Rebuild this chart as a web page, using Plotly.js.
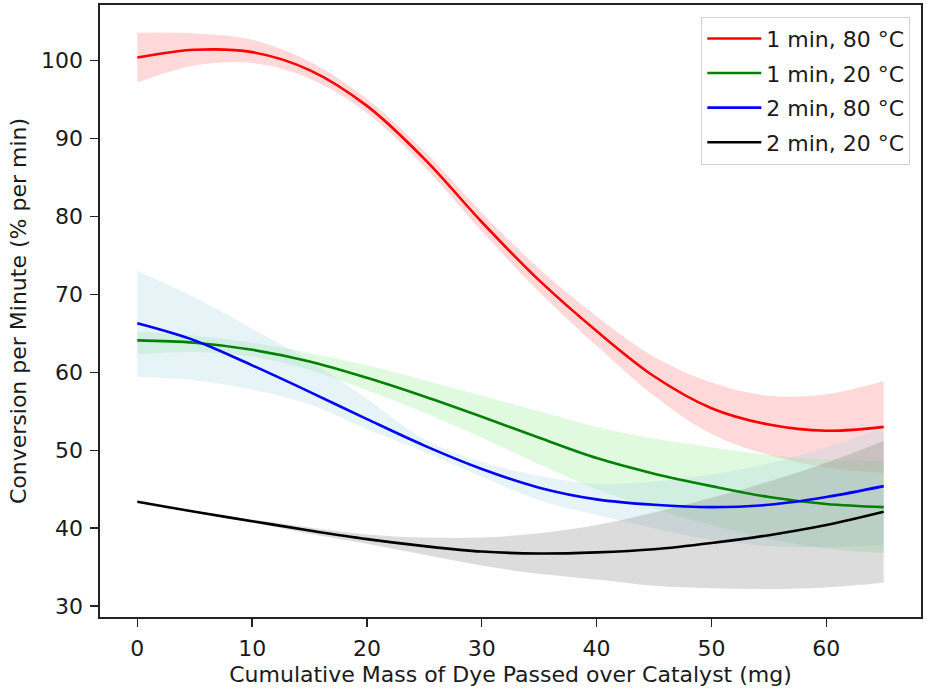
<!DOCTYPE html>
<html>
<head>
<meta charset="utf-8">
<script src="https://cdn.plot.ly/plotly-3.0.1.min.js"></script>
<style>html,body{margin:0;padding:0;background:#fff;}#chart{width:927px;height:693px;}</style>
</head>
<body>
<div id="chart"></div>
<script>
// Cumulative mass of dye passed over catalyst (mg)
const massX = [0, 5, 10, 15, 20, 25, 30, 35, 40, 45, 50, 55, 60, 65];

const seriesNames = ["1 min, 80 °C", "1 min, 20 °C", "2 min, 80 °C", "2 min, 20 °C"];

// 1 min, 80 °C
const red80 =      [100.4, 101.4, 101.1, 98.8, 94.2, 87.4, 79.3, 71.8, 65.3, 59.5, 55.4, 53.3, 52.5, 53.0];
const red80Upper = [103.6, 103.5, 102.7, 99.9, 95.1, 88.4, 80.5, 73.3, 67.2, 62.0, 58.7, 57.0, 57.2, 58.9];
const red80Lower = [97.2, 99.4, 99.7, 97.7, 93.3, 86.4, 78.1, 70.3, 63.4, 57.0, 52.1, 49.4, 47.8, 47.1];

// 1 min, 20 °C
const green20 =      [64.1, 63.8, 62.9, 61.4, 59.3, 56.9, 54.3, 51.6, 49.0, 47.0, 45.4, 44.0, 43.1, 42.7];
const green20Upper = [65.2, 64.7, 63.8, 62.5, 60.9, 59.0, 57.0, 55.0, 53.0, 51.5, 50.4, 49.4, 48.8, 48.6];
const green20Lower = [62.3, 62.6, 62.0, 60.3, 57.7, 54.8, 51.6, 48.2, 45.0, 42.5, 40.4, 38.6, 37.4, 36.8];

// 2 min, 80 °C
const blue80 =      [66.3, 64.1, 60.9, 57.5, 54.0, 50.6, 47.6, 45.2, 43.7, 43.0, 42.7, 43.0, 44.0, 45.4];
const blue80Upper = [73.0, 69.6, 65.6, 61.5, 56.6, 51.4, 48.5, 46.7, 45.7, 46.0, 46.9, 48.3, 50.4, 52.9];
const blue80Lower = [59.4, 59.0, 57.8, 55.9, 52.7, 49.8, 46.6, 43.6, 41.7, 40.0, 38.5, 37.7, 37.6, 37.8];

// 2 min, 20 °C
const black20 =      [43.4, 42.1, 40.9, 39.7, 38.6, 37.7, 37.0, 36.75, 36.9, 37.3, 38.1, 39.1, 40.4, 42.1];
const black20Upper = [43.5, 42.2, 41.1, 40.1, 39.2, 38.8, 38.8, 39.35, 40.4, 42.0, 43.9, 46.0, 48.4, 51.2];
const black20Lower = [43.3, 42.0, 40.7, 39.3, 38.0, 36.6, 35.2, 34.15, 33.4, 32.6, 32.3, 32.2, 32.4, 33.0];

const lineColors = ["#ff0000", "#008000", "#0000ff", "#000000"];
const bandColors = ["rgba(255,0,0,0.15)", "rgba(144,238,144,0.28)", "rgba(173,216,230,0.30)", "rgba(128,128,128,0.28)"];

const centers = [red80, green20, blue80, black20];
const uppers = [red80Upper, green20Upper, blue80Upper, black20Upper];
const lowers = [red80Lower, green20Lower, blue80Lower, black20Lower];

const traces = [];
for (let i = 0; i < 4; i++) {
  traces.push({
    x: massX, y: uppers[i], type: "scatter", mode: "lines",
    line: {width: 0, shape: "spline", color: bandColors[i]},
    showlegend: false, hoverinfo: "skip"
  });
  traces.push({
    x: massX, y: lowers[i], type: "scatter", mode: "lines",
    line: {width: 0, shape: "spline", color: bandColors[i]},
    fill: "tonexty", fillcolor: bandColors[i],
    showlegend: false, hoverinfo: "skip"
  });
}
for (let i = 0; i < 4; i++) {
  traces.push({
    x: massX, y: centers[i], type: "scatter", mode: "lines",
    name: seriesNames[i], legendgroup: "g" + i,
    line: {width: 2.6, shape: "spline", color: lineColors[i]}
  });
}

const fontFam = "DejaVu Sans, sans-serif";
const fs = 22;
const layout = {
  width: 927, height: 693,
  margin: {l: 100, r: 6, t: 5, b: 76},
  paper_bgcolor: "#fff", plot_bgcolor: "#fff",
  font: {family: fontFam, size: fs, color: "#1a1a1a"},
  showlegend: true,
  legend: {
    x: 0.987, y: 0.981, xanchor: "right", yanchor: "top",
    bgcolor: "rgba(255,255,255,0.85)", bordercolor: "#d0d0d0", borderwidth: 1,
    font: {family: fontFam, size: fs, color: "#1a1a1a"},
    tracegroupgap: 3, itemwidth: 54
  },
  xaxis: {
    range: [-3.25, 68.25], tickvals: [0, 10, 20, 30, 40, 50, 60],
    showgrid: false, zeroline: false, showline: true, mirror: true,
    linecolor: "#222", linewidth: 1.6,
    ticks: "outside", ticklen: 8, tickwidth: 1.4, tickcolor: "#222",
    ticklabelstandoff: 3,
    tickfont: {family: fontFam, size: fs, color: "#1a1a1a"},
    title: {text: "Cumulative Mass of Dye Passed over Catalyst (mg)", standoff: 6,
            font: {family: fontFam, size: fs, color: "#1a1a1a"}}
  },
  yaxis: {
    range: [28.6, 107.15], tickvals: [30, 40, 50, 60, 70, 80, 90, 100],
    showgrid: false, zeroline: false, showline: true, mirror: true,
    linecolor: "#222", linewidth: 1.6,
    ticks: "outside", ticklen: 8, tickwidth: 1.4, tickcolor: "#222",
    ticklabelstandoff: 3,
    tickfont: {family: fontFam, size: fs, color: "#1a1a1a"},
    title: {text: "Conversion per Minute (% per min)", standoff: 8,
            font: {family: fontFam, size: fs, color: "#1a1a1a"}}
  }
};

Plotly.newPlot("chart", traces, layout, {displayModeBar: false, staticPlot: true});
</script>
</body>
</html>
